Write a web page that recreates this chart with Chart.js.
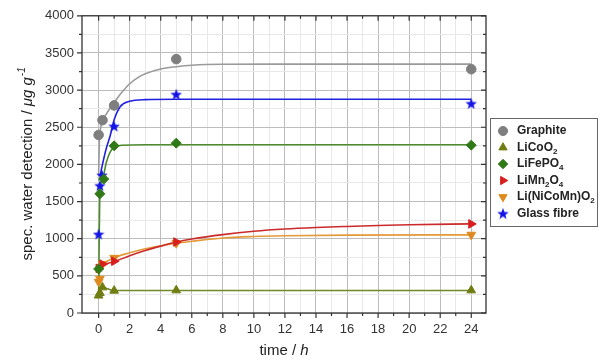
<!DOCTYPE html>
<html>
<head>
<meta charset="utf-8">
<script src="https://cdn.jsdelivr.net/npm/chart.js@4/dist/chart.umd.min.js"></script>
<style>
  html, body { margin: 0; padding: 0; background: #fff; }
  #wrap { width: 600px; height: 364px; position: relative; }
</style>
</head>
<body>
<div id="wrap"><canvas id="c" width="600" height="364"></canvas></div>
<script>
// measured points: [time h, µg/g]
const graphitePts = [[0, 2396], [0.25, 2595], [1, 2794], [5, 3417], [24, 3281]];
const licoo2Pts = [[0, 235], [0.083, 270], [0.25, 345], [1, 301], [5, 305], [24, 305]];
const lifepo4Pts = [[0, 593], [0.083, 1604], [0.33, 1803], [1, 2250], [5, 2286], [24, 2259]];
const limn2o4Pts = [[0, 600], [0.25, 657], [1, 697], [5, 955], [24, 1199]];
const nmcPts = [[0, 420], [0.083, 460], [0.25, 660], [1, 742], [5, 940], [24, 1053]];
const glassPts = [[0, 1061], [0.083, 1716], [0.22, 1856], [1, 2515], [5, 2944], [24, 2820]];

// fitted curves
const graphiteFit = [[0, 1850], [0.05, 2300], [0.12, 2480], [0.25, 2580], [0.5, 2680], [0.75, 2760], [1, 2830], [1.25, 2905], [1.5, 2970], [2, 3085], [2.5, 3165], [3, 3220], [4, 3285], [5, 3315], [6, 3335], [8, 3348], [12, 3350], [24, 3350]];
const licoo2Fit = [[0, 230], [0.25, 345], [1, 302], [3, 302], [24, 302]];
const lifepo4Fit = [[0, 240], [0.083, 1600], [0.25, 1800], [0.5, 2030], [0.75, 2170], [1, 2230], [1.5, 2258], [3, 2265], [24, 2265]];
const limn2o4Fit = [[0, 560], [0.1, 610], [0.25, 640], [1, 690], [2, 770], [3, 840], [4, 900], [5, 955], [6, 995], [8, 1055], [10, 1100], [12, 1130], [14, 1150], [16, 1165], [18, 1178], [20, 1188], [24, 1199]];
const nmcFit = [[0, 430], [0.1, 620], [0.25, 660], [1, 745], [2, 810], [3, 865], [4, 905], [5, 940], [6, 965], [8, 1010], [10, 1030], [12, 1040], [16, 1048], [24, 1052]];
const glassFit = [[0.1, 1850], [0.25, 2000], [0.5, 2220], [0.75, 2390], [1, 2600], [1.4, 2780], [2, 2850], [3, 2872], [5, 2877], [24, 2877]];

const seriesNames = ['Graphite', 'LiCoO_2', 'LiFePO_4', 'LiMn_2O_4', 'Li(NiCoMn)O_2', 'Glass fibre'];
const markerColors = ['#7f7f7f', '#6f7d12', '#2f7a16', '#d81e1e', '#df8a1f', '#1414e6'];
const lineColors = ['#9a9a9a', '#6f8a2a', '#4d8a2c', '#cc2a2a', '#e59a3a', '#2020e0'];

const xTicks = [0, 2, 4, 6, 8, 10, 12, 14, 16, 18, 20, 22, 24];
const yTicks = [0, 500, 1000, 1500, 2000, 2500, 3000, 3500, 4000];

function makeStar(size, color) {
  const cv = document.createElement('canvas');
  cv.width = size; cv.height = size;
  const g = cv.getContext('2d');
  const cx = size / 2, cy = size / 2 + 0.6, ro = size / 2, ri = ro * 0.42;
  g.beginPath();
  for (let i = 0; i < 10; i++) {
    const r = i % 2 ? ri : ro;
    const a = -Math.PI / 2 + i * Math.PI / 5;
    g.lineTo(cx + r * Math.cos(a), cy + r * Math.sin(a));
  }
  g.closePath();
  g.fillStyle = color;
  g.fill();
  return cv;
}

const styles = [
  { pointStyle: 'circle', radius: 4.8, rotation: 0 },
  { pointStyle: 'triangle', radius: 5, rotation: 0 },
  { pointStyle: 'rectRot', radius: 5, rotation: 0 },
  { pointStyle: 'triangle', radius: 5, rotation: 90 },
  { pointStyle: 'triangle', radius: 5, rotation: 180 },
  { pointStyle: makeStar(12, markerColors[5]), radius: 6, rotation: 0 }
];

const toXY = arr => arr.map(p => ({ x: p[0], y: p[1] }));
const fits = [graphiteFit, licoo2Fit, lifepo4Fit, limn2o4Fit, nmcFit, glassFit];
const pts = [graphitePts, licoo2Pts, lifepo4Pts, limn2o4Pts, nmcPts, glassPts];

const datasets = [];
fits.forEach((f, i) => {
  datasets.push({
    type: 'line',
    data: toXY(f),
    borderColor: lineColors[i],
    borderWidth: 1.6,
    pointRadius: 0,
    fill: false,
    cubicInterpolationMode: 'monotone',
    order: 2
  });
});
pts.forEach((p, i) => {
  datasets.push({
    type: 'scatter',
    data: toXY(p),
    backgroundColor: markerColors[i],
    borderColor: markerColors[i],
    borderWidth: 1,
    pointStyle: styles[i].pointStyle,
    pointRadius: styles[i].radius,
    rotation: styles[i].rotation,
    order: 1
  });
});

function drawSubText(ctx, label, x, y, size) {
  const parts = label.split(/(_\d)/);
  let cx = x;
  parts.forEach(part => {
    if (!part) return;
    if (part.startsWith('_')) {
      ctx.font = 'bold ' + (size - 4) + 'px "Liberation Sans", Arial, sans-serif';
      ctx.fillText(part.slice(1), cx, y + 4);
      cx += ctx.measureText(part.slice(1)).width;
    } else {
      ctx.font = 'bold ' + size + 'px "Liberation Sans", Arial, sans-serif';
      ctx.fillText(part, cx, y);
      cx += ctx.measureText(part).width;
    }
  });
}

const framePlugin = {
  id: 'frame',
  afterDraw(chart) {
    const ctx = chart.ctx;
    const a = chart.chartArea;
    const xs = chart.scales.x, ys = chart.scales.y;
    ctx.save();
    ctx.strokeStyle = '#333';
    ctx.lineWidth = 1.3;
    ctx.strokeRect(a.left, a.top, a.right - a.left, a.bottom - a.top);

    ctx.lineWidth = 1.2;
    ctx.beginPath();
    for (let t = 0; t <= 24; t++) {
      const px = xs.getPixelForValue(t);
      const len = t % 2 === 0 ? 5 : 3;
      ctx.moveTo(px, a.bottom); ctx.lineTo(px, a.bottom + len);
      ctx.moveTo(px, a.top); ctx.lineTo(px, a.top + len);
    }
    for (let v = 0; v <= 4000; v += 250) {
      const py = ys.getPixelForValue(v);
      const len = v % 500 === 0 ? 5 : 3;
      ctx.moveTo(a.left, py); ctx.lineTo(a.left - len, py);
      ctx.moveTo(a.right, py); ctx.lineTo(a.right - len, py);
    }
    ctx.stroke();

    // axis titles
    ctx.fillStyle = '#222';
    ctx.textBaseline = 'alphabetic';
    const f = '"Liberation Sans", Arial, sans-serif';
    ctx.font = '15px ' + f;
    let w1 = ctx.measureText('time / ').width;
    ctx.font = 'italic 15px ' + f;
    let w2 = ctx.measureText('h').width;
    let sx = (a.left + a.right) / 2 - (w1 + w2) / 2;
    ctx.font = '15px ' + f;
    ctx.fillText('time / ', sx, 355);
    ctx.font = 'italic 15px ' + f;
    ctx.fillText('h', sx + w1, 355);

    ctx.save();
    ctx.translate(32, (a.top + a.bottom) / 2);
    ctx.rotate(-Math.PI / 2);
    ctx.font = '15px ' + f;
    const p1 = 'spec. water detection / ';
    const wp1 = ctx.measureText(p1).width;
    ctx.font = 'italic 15px ' + f;
    const p2 = '\u03bcg g';
    const wp2 = ctx.measureText(p2).width;
    ctx.font = 'italic 10px ' + f;
    const wp3 = ctx.measureText('-1').width;
    let ox = -(wp1 + wp2 + wp3) / 2;
    ctx.font = '15px ' + f;
    ctx.fillText(p1, ox, 0);
    ctx.font = 'italic 15px ' + f;
    ctx.fillText(p2, ox + wp1, 0);
    ctx.font = 'italic 10px ' + f;
    ctx.fillText('-1', ox + wp1 + wp2 + 1, -7);
    ctx.restore();

    // legend
    ctx.strokeStyle = '#666';
    ctx.lineWidth = 1;
    ctx.strokeRect(490.5, 118.5, 107, 108);
    seriesNames.forEach((name, i) => {
      const y = 131 + i * 16.5;
      const st = styles[i];
      ctx.fillStyle = markerColors[i];
      ctx.strokeStyle = markerColors[i];
      Chart.helpers.drawPoint(ctx, {
        pointStyle: st.pointStyle,
        radius: st.radius * 0.95,
        rotation: st.rotation,
        borderWidth: 1
      }, 503, y);
      ctx.fillStyle = '#222';
      ctx.textBaseline = 'middle';
      drawSubText(ctx, name, 517, y, 12);
    });
    ctx.restore();
  }
};

new Chart(document.getElementById('c'), {
  type: 'scatter',
  data: { datasets: datasets },
  options: {
    responsive: false,
    animation: false,
    devicePixelRatio: 1,
    layout: { padding: { top: 11, right: 114, left: 0, bottom: 0 } },
    plugins: { legend: { display: false }, tooltip: { enabled: false } },
    scales: {
      x: {
        type: 'linear',
        min: -1.07,
        max: 24.95,
        afterFit: s => { s.height = 51; },
        afterBuildTicks: s => {
          s.ticks = [];
          for (let t = 0; t <= 24; t++) s.ticks.push({ value: t });
        },
        ticks: {
          autoSkip: false,
          maxRotation: 0,
          padding: 9,
          color: '#333',
          font: { size: 13, family: '"Liberation Sans", Arial, sans-serif' },
          callback: v => xTicks.includes(v) ? String(v) : ''
        },
        grid: {
          drawTicks: false,
          color: c => c.tick && c.tick.value % 2 === 0 ? '#bdbdbd' : '#e8e8e8',
          lineWidth: 1
        },
        border: { display: false }
      },
      y: {
        min: 0,
        max: 4000,
        afterFit: s => { s.width = 82; },
        afterBuildTicks: s => {
          s.ticks = [];
          for (let v = 0; v <= 4000; v += 250) s.ticks.push({ value: v });
        },
        ticks: {
          autoSkip: false,
          padding: 8,
          color: '#333',
          font: { size: 13, family: '"Liberation Sans", Arial, sans-serif' },
          callback: v => yTicks.includes(v) ? String(v) : ''
        },
        grid: {
          drawTicks: false,
          color: c => c.tick && c.tick.value % 500 === 0 ? '#bdbdbd' : '#e8e8e8',
          lineWidth: 1
        },
        border: { display: false }
      }
    }
  },
  plugins: [framePlugin]
});
</script>
</body>
</html>
